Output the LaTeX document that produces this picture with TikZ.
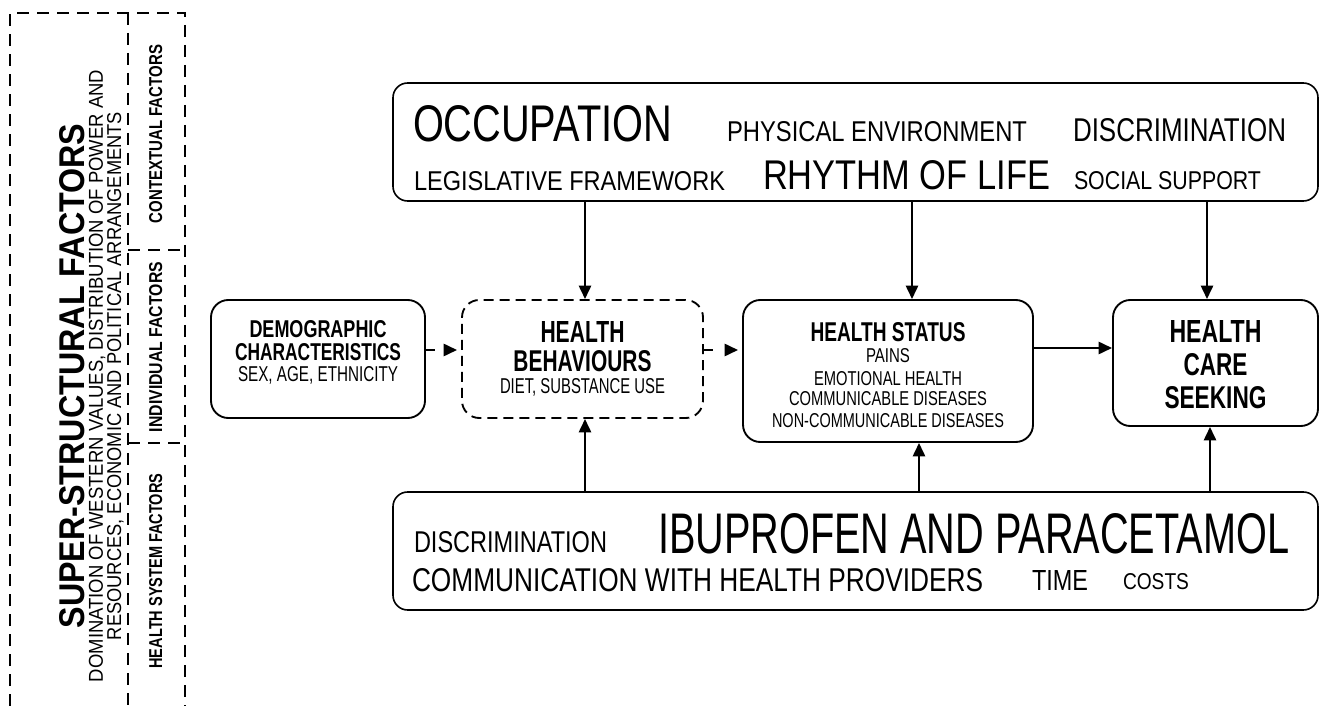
\documentclass[tikz,border=0pt]{standalone}
\usepackage{fontspec}
\setmainfont{Liberation Sans}[FakeStretch=0.8]
\usepackage{graphicx}
\usetikzlibrary{arrows.meta}
\newlength{\pxu}\setlength{\pxu}{0.75pt}
\newcommand{\fit}[3]{\resizebox{#1\pxu}{#2\pxu}{#3}}
\begin{document}
\begin{tikzpicture}[x=0.75pt,y=-0.75pt,
  txt/.style={inner sep=0pt, outer sep=0pt},
  ctr/.style={inner sep=0pt, outer sep=0pt, anchor=base},
  lw/.style={inner sep=0pt, outer sep=0pt, anchor=base west},
  vt/.style={inner sep=0pt, outer sep=0pt, rotate=90, anchor=base},
  box/.style={draw, line width=1.4pt, rounded corners=13pt, inner sep=0pt},
  cloud/.style={draw, line width=1.2pt, rounded corners=11pt, inner sep=0pt},
  lft/.style={line width=1.2pt, dash pattern=on 9pt off 6pt},
  arr/.style={line width=1.8pt, -{Triangle[length=10pt,width=9pt]}},
  darr/.style={arr, dash pattern=on 6.5pt off 20pt, shorten >=3pt}]
\fill[white] (0,0) rectangle (1322,706);
\useasboundingbox (0,0) rectangle (1322,706);
% left column
\draw[lft] (10,706) -- (10,13) -- (185,13) -- (185,706);
\draw[lft] (128,13) -- (128,706);
\draw[lft] (128,250) -- (185,250);
\draw[lft] (128,443) -- (185,443);
\node[vt] (ssf) at (84,376) {\fit{505}{25}{\bfseries SUPER-STRUCTURAL FACTORS}};
\node[vt] (ssf1) at (103,376) {\fit{612}{14}{DOMINATION OF WESTERN VALUES, DISTRIBUTION OF POWER AND}};
\node[vt] (ssf2) at (121,376) {\fit{528}{14}{RESOURCES, ECONOMIC AND POLITICAL ARRANGEMENTS}};
\node[vt] (ctx) at (162,134) {\fit{178}{13}{\bfseries CONTEXTUAL FACTORS}};
\node[vt] (ind) at (162,347) {\fit{170}{13}{\bfseries INDIVIDUAL FACTORS}};
\node[vt] (hsf) at (162,571) {\fit{195}{13}{\bfseries HEALTH SYSTEM FACTORS}};
% top box
\node[cloud, minimum width=693.75pt, minimum height=88.5pt] (top) at (855.5,142) {};
\node[lw] (occ) at (413,142) {\fit{259}{36}{OCCUPATION}};
\node[lw] (phy) at (727,142) {\fit{300}{20}{PHYSICAL ENVIRONMENT}};
\node[lw] (dis1) at (1073,142) {\fit{213}{23}{DISCRIMINATION}};
\node[lw] (leg) at (414,191) {\fit{311}{19}{LEGISLATIVE FRAMEWORK}};
\node[lw] (rhy) at (763,190) {\fit{287}{29}{RHYTHM OF LIFE}};
\node[lw] (soc) at (1074,190) {\fit{187}{18}{SOCIAL SUPPORT}};
% bottom box
\node[cloud, minimum width=693.75pt, minimum height=88.5pt] (bot) at (855.5,551) {};
\node[lw] (dis2) at (414,552) {\fit{193}{21}{DISCRIMINATION}};
\node[lw] (ibu) at (658,553) {\fit{631}{40}{IBUPROFEN AND PARACETAMOL}};
\node[lw] (com) at (412,591) {\fit{571}{23}{COMMUNICATION WITH HEALTH PROVIDERS}};
\node[lw] (tim) at (1032,590) {\fit{56}{20}{TIME}};
\node[lw] (cos) at (1123,589) {\fit{66}{16}{COSTS}};
% demographic box
\node[box, minimum width=160.5pt, minimum height=88.5pt] (demo) at (318,359) {};
\node[ctr] (demo1) at (318,337) {\fit{137}{17}{\bfseries DEMOGRAPHIC}};
\node[ctr] (demo2) at (318,360) {\fit{166}{17}{\bfseries CHARACTERISTICS}};
\node[ctr] (demo3) at (318,381) {\fit{160}{15}{SEX, AGE, ETHNICITY}};
% health behaviours box
\node[box, dash pattern=on 7.5pt off 4.5pt, minimum width=180.75pt, minimum height=88.5pt] (behav) at (582.5,359) {};
\node[ctr] (beh1) at (582.5,342) {\fit{84}{21}{\bfseries HEALTH}};
\node[ctr] (beh2) at (582.5,371) {\fit{138}{21}{\bfseries BEHAVIOURS}};
\node[ctr] (beh3) at (582.5,393) {\fit{165}{15}{DIET, SUBSTANCE USE}};
% health status box
\node[box, minimum width=217.5pt, minimum height=106.5pt] (status) at (888,371) {};
\node[ctr] (st1) at (888,341) {\fit{155}{19}{\bfseries HEALTH STATUS}};
\node[ctr] (st2) at (888,363) {\fit{44}{14}{PAINS}};
\node[ctr] (st3) at (888,385) {\fit{148}{14}{EMOTIONAL HEALTH}};
\node[ctr] (st4) at (888,406) {\fit{198}{14}{COMMUNICABLE DISEASES}};
\node[ctr] (st5) at (888,427) {\fit{232}{14}{NON-COMMUNICABLE DISEASES}};
% health care seeking box
\node[box, minimum width=153.75pt, minimum height=94.5pt] (seek) at (1215.5,363) {};
\node[ctr] (sk1) at (1215.5,342) {\fit{92}{22}{\bfseries HEALTH}};
\node[ctr] (sk2) at (1215.5,375) {\fit{64}{22}{\bfseries CARE}};
\node[ctr] (sk3) at (1215.5,408) {\fit{102}{22}{\bfseries SEEKING}};
% connectors
\coordinate (c1) at (585,0);
\coordinate (c2) at (912,0);
\coordinate (c3) at (1207,0);
\coordinate (c4) at (919,0);
\coordinate (c5) at (1210,0);
\coordinate (r1) at (0,350);
\coordinate (r2) at (0,348);
\draw[arr] (top.south -| c1) -- (behav.north -| c1);
\draw[arr] (top.south -| c2) -- (status.north -| c2);
\draw[arr] (top.south -| c3) -- (seek.north -| c3);
\draw[arr] (bot.north -| c1) -- (behav.south -| c1);
\draw[arr] (bot.north -| c4) -- (status.south -| c4);
\draw[arr] (bot.north -| c5) -- (seek.south -| c5);
\draw[darr] (demo.east |- r1) -- (behav.west |- r1);
\draw[darr] (behav.east |- r1) -- (status.west |- r1);
\draw[arr] (status.east |- r2) -- (seek.west |- r2);
\end{tikzpicture}
\end{document}
